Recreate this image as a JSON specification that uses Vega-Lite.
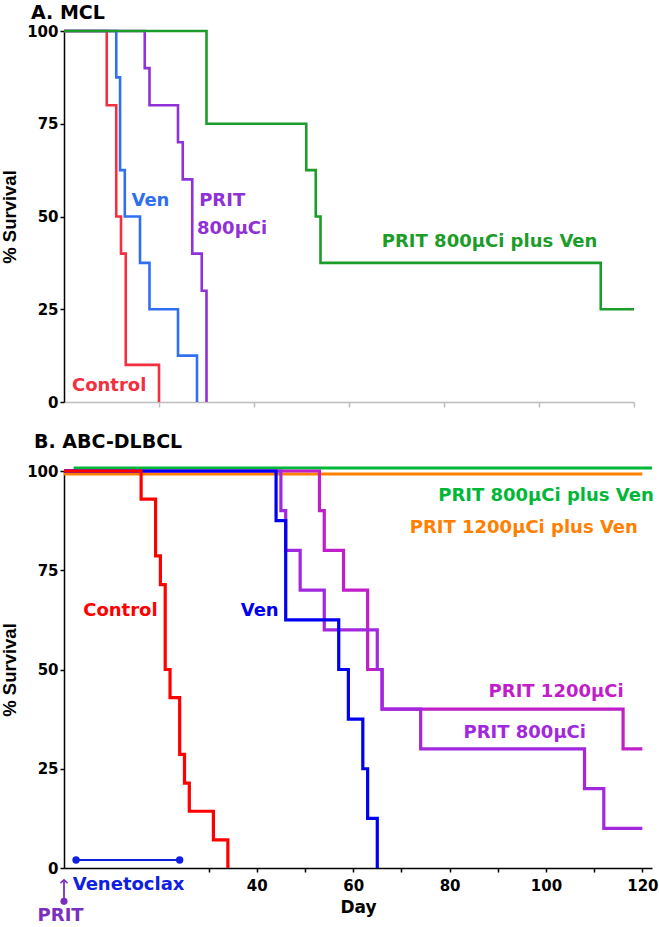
{
  "$schema": "https://vega.github.io/schema/vega-lite/v6.json",
  "padding": {"left": 0, "top": 4, "right": 0, "bottom": 0},
  "background": "white",
  "spacing": 22,
  "config": {
    "view": {"stroke": null},
    "font": "DejaVu Sans",
    "axis": {
      "grid": false,
      "labelFont": "DejaVu Sans", "labelFontWeight": "bold", "labelFontSize": 15, "labelColor": "black",
      "titleFont": "Liberation Sans", "titleFontWeight": "bold", "titleFontSize": 18.5, "titleColor": "black",
      "domainColor": "black", "tickColor": "black", "domainWidth": 1.5, "tickWidth": 1.5
    },
    "title": {"font": "DejaVu Sans", "fontSize": 19, "fontWeight": "bold", "anchor": "start", "color": "black", "frame": "group"}
  },
  "datasets": {
    "mcl": [
      {"series": "Control", "day": 0, "surv": 100}, {"series": "Control", "day": 9, "surv": 80}, {"series": "Control", "day": 11, "surv": 50}, {"series": "Control", "day": 12, "surv": 40}, {"series": "Control", "day": 13, "surv": 10}, {"series": "Control", "day": 20, "surv": 0},
      {"series": "Ven", "day": 0, "surv": 100}, {"series": "Ven", "day": 11, "surv": 87.5}, {"series": "Ven", "day": 11.8, "surv": 62.5}, {"series": "Ven", "day": 12.8, "surv": 50}, {"series": "Ven", "day": 16, "surv": 37.5}, {"series": "Ven", "day": 18, "surv": 25}, {"series": "Ven", "day": 24, "surv": 12.5}, {"series": "Ven", "day": 28, "surv": 0},
      {"series": "PRIT 800µCi", "day": 0, "surv": 100}, {"series": "PRIT 800µCi", "day": 17, "surv": 90}, {"series": "PRIT 800µCi", "day": 18, "surv": 80}, {"series": "PRIT 800µCi", "day": 24, "surv": 70}, {"series": "PRIT 800µCi", "day": 25, "surv": 60}, {"series": "PRIT 800µCi", "day": 27, "surv": 40}, {"series": "PRIT 800µCi", "day": 29, "surv": 30}, {"series": "PRIT 800µCi", "day": 30, "surv": 0},
      {"series": "PRIT 800µCi plus Ven", "day": 0, "surv": 100}, {"series": "PRIT 800µCi plus Ven", "day": 30, "surv": 75}, {"series": "PRIT 800µCi plus Ven", "day": 51, "surv": 62.5}, {"series": "PRIT 800µCi plus Ven", "day": 53, "surv": 50}, {"series": "PRIT 800µCi plus Ven", "day": 54, "surv": 37.5}, {"series": "PRIT 800µCi plus Ven", "day": 113, "surv": 25}, {"series": "PRIT 800µCi plus Ven", "day": 120, "surv": 25}
    ],
    "mcl_labels": [
      {"label": "Ven", "series": "Ven", "day": 18.2, "surv": 54.3},
      {"label": "PRIT", "series": "PRIT 800µCi", "day": 33.3, "surv": 54.3},
      {"label": "800µCi", "series": "PRIT 800µCi", "day": 35.4, "surv": 46.6},
      {"label": "Control", "series": "Control", "day": 9.5, "surv": 4.4},
      {"label": "PRIT 800µCi plus Ven", "series": "PRIT 800µCi plus Ven", "day": 89.6, "surv": 43}
    ],
    "dlbcl": [
      {"series": "PRIT 1200µCi", "day": 0, "surv": 100}, {"series": "PRIT 1200µCi", "day": 53, "surv": 90}, {"series": "PRIT 1200µCi", "day": 54, "surv": 80}, {"series": "PRIT 1200µCi", "day": 58, "surv": 70}, {"series": "PRIT 1200µCi", "day": 63, "surv": 50}, {"series": "PRIT 1200µCi", "day": 66, "surv": 40}, {"series": "PRIT 1200µCi", "day": 116, "surv": 30}, {"series": "PRIT 1200µCi", "day": 120, "surv": 30},
      {"series": "PRIT 800µCi", "day": 0, "surv": 100}, {"series": "PRIT 800µCi", "day": 45, "surv": 90}, {"series": "PRIT 800µCi", "day": 46, "surv": 80}, {"series": "PRIT 800µCi", "day": 49, "surv": 70}, {"series": "PRIT 800µCi", "day": 54, "surv": 60}, {"series": "PRIT 800µCi", "day": 65, "surv": 50}, {"series": "PRIT 800µCi", "day": 66, "surv": 40}, {"series": "PRIT 800µCi", "day": 74, "surv": 30}, {"series": "PRIT 800µCi", "day": 108, "surv": 20}, {"series": "PRIT 800µCi", "day": 112, "surv": 10}, {"series": "PRIT 800µCi", "day": 120, "surv": 10},
      {"series": "Ven", "day": 0, "surv": 100}, {"series": "Ven", "day": 44, "surv": 87.5}, {"series": "Ven", "day": 46, "surv": 62.5}, {"series": "Ven", "day": 57, "surv": 50}, {"series": "Ven", "day": 59, "surv": 37.5}, {"series": "Ven", "day": 62, "surv": 25}, {"series": "Ven", "day": 63, "surv": 12.5}, {"series": "Ven", "day": 65, "surv": 0},
      {"series": "Control", "day": 0, "surv": 100}, {"series": "Control", "day": 16, "surv": 92.9}, {"series": "Control", "day": 19, "surv": 78.6}, {"series": "Control", "day": 20, "surv": 71.4}, {"series": "Control", "day": 21, "surv": 50}, {"series": "Control", "day": 22, "surv": 42.9}, {"series": "Control", "day": 24, "surv": 28.6}, {"series": "Control", "day": 25, "surv": 21.4}, {"series": "Control", "day": 26, "surv": 14.3}, {"series": "Control", "day": 31, "surv": 7.1}, {"series": "Control", "day": 34, "surv": 0}
    ],
    "combo800": [
      {"series": "PRIT 800µCi plus Ven", "day": 2, "surv": 100}, {"series": "PRIT 800µCi plus Ven", "day": 122, "surv": 100}
    ],
    "combo1200": [
      {"series": "PRIT 1200µCi plus Ven", "day": 0, "surv": 100}, {"series": "PRIT 1200µCi plus Ven", "day": 120, "surv": 100}
    ],
    "venbar": [
      {"series": "Venetoclax", "day": 2.5, "surv": 2}, {"series": "Venetoclax", "day": 24, "surv": 2}
    ],
    "pritarrow": [
      {"series": "PRIT", "day": 0, "y1": -8.4, "y2": -3}
    ],
    "dlbcl_labels": [
      {"label": "Control", "series": "Control", "day": 11.7, "surv": 64.7},
      {"label": "Ven", "series": "Ven", "day": 40.6, "surv": 64.7},
      {"label": "PRIT 800µCi plus Ven", "series": "PRIT 800µCi plus Ven", "day": 100, "surv": 93.8},
      {"label": "PRIT 1200µCi plus Ven", "series": "PRIT 1200µCi plus Ven", "day": 95.4, "surv": 85.7},
      {"label": "PRIT 1200µCi", "series": "PRIT 1200µCi", "day": 102.1, "surv": 44.3},
      {"label": "PRIT 800µCi", "series": "PRIT 800µCi", "day": 95.6, "surv": 34},
      {"label": "Venetoclax", "series": "Venetoclax", "day": 13.4, "surv": -4.2},
      {"label": "PRIT", "series": "PRIT", "day": -0.7, "surv": -12}
    ]
  },
  "resolve": {"scale": {"color": "independent"}},
  "vconcat": [
    {
      "width": 570,
      "height": 371,
      "title": {"text": "A. MCL", "dx": -33, "offset": 1},
      "layer": [
        {
          "data": {"name": "mcl"},
          "mark": {"type": "line", "interpolate": "step-after", "strokeWidth": 2.6},
          "encoding": {
            "x": {"field": "day", "type": "quantitative", "scale": {"domain": [0, 120], "nice": false},
                  "axis": {"values": [20, 40, 60, 80, 100, 120], "labels": false, "title": null, "domainColor": "#bdbdbd", "tickColor": "#bdbdbd", "tickSize": 5}},
            "y": {"field": "surv", "type": "quantitative", "scale": {"domain": [0, 100], "nice": false},
                  "axis": {"values": [0, 25, 50, 75, 100], "title": "% Survival", "tickSize": 4, "labelPadding": 2, "titlePadding": 7}},
            "color": {"field": "series", "type": "nominal", "legend": null,
                      "scale": {"domain": ["Control", "Ven", "PRIT 800µCi", "PRIT 800µCi plus Ven"], "range": ["#f2303f", "#2f6ff0", "#9030d8", "#1c9c28"]}}
          }
        },
        {
          "data": {"name": "mcl_labels"},
          "mark": {"type": "text", "font": "DejaVu Sans", "fontWeight": "bold", "fontSize": 18, "align": "center", "baseline": "middle"},
          "encoding": {
            "x": {"field": "day", "type": "quantitative"},
            "y": {"field": "surv", "type": "quantitative"},
            "text": {"field": "label"},
            "color": {"field": "series", "type": "nominal", "legend": null}
          }
        }
      ]
    },
    {
      "width": 588,
      "height": 397,
      "title": {"text": "B. ABC-DLBCL", "dx": -30, "offset": 10},
      "layer": [
        {
          "data": {"name": "combo1200"},
          "mark": {"type": "line", "strokeWidth": 3.2, "yOffset": 3},
          "encoding": {
            "x": {"field": "day", "type": "quantitative", "scale": {"domain": [0, 122], "nice": false},
                  "axis": {"values": [30, 40, 50, 60, 70, 80, 90, 100, 110, 120], "labelExpr": "datum.value % 20 == 0 && datum.value >= 40 ? datum.label : ''", "title": "Day", "titleFont": "DejaVu Sans", "titleFontSize": 17, "tickSize": 4, "labelPadding": 6, "titlePadding": 6}},
            "y": {"field": "surv", "type": "quantitative", "scale": {"domain": [0, 100], "nice": false},
                  "axis": {"values": [0, 25, 50, 75, 100], "title": "% Survival", "tickSize": 4, "labelPadding": 2, "titlePadding": 7}},
            "color": {"field": "series", "type": "nominal", "legend": null,
                      "scale": {"domain": ["Control", "Ven", "PRIT 800µCi", "PRIT 1200µCi", "PRIT 800µCi plus Ven", "PRIT 1200µCi plus Ven", "Venetoclax", "PRIT"],
                                "range": ["#ff0000", "#0000f0", "#a228e0", "#c01ec8", "#00b838", "#ff8000", "#1020e0", "#7b2fbe"]}}
          }
        },
        {
          "data": {"name": "combo800"},
          "mark": {"type": "line", "strokeWidth": 3.2, "yOffset": -3},
          "encoding": {
            "x": {"field": "day", "type": "quantitative"},
            "y": {"field": "surv", "type": "quantitative"},
            "color": {"field": "series", "type": "nominal", "legend": null}
          }
        },
        {
          "data": {"name": "dlbcl"},
          "mark": {"type": "line", "interpolate": "step-after", "strokeWidth": 3.2},
          "encoding": {
            "x": {"field": "day", "type": "quantitative"},
            "y": {"field": "surv", "type": "quantitative"},
            "color": {"field": "series", "type": "nominal", "legend": null}
          }
        },
        {
          "data": {"name": "venbar"},
          "mark": {"type": "line", "strokeWidth": 2},
          "encoding": {
            "x": {"field": "day", "type": "quantitative"},
            "y": {"field": "surv", "type": "quantitative"},
            "color": {"field": "series", "type": "nominal", "legend": null}
          }
        },
        {
          "data": {"name": "venbar"},
          "mark": {"type": "point", "filled": true, "size": 55, "opacity": 1},
          "encoding": {
            "x": {"field": "day", "type": "quantitative"},
            "y": {"field": "surv", "type": "quantitative"},
            "color": {"field": "series", "type": "nominal", "legend": null}
          }
        },
        {
          "data": {"name": "pritarrow"},
          "mark": {"type": "rule", "strokeWidth": 1.8},
          "encoding": {
            "x": {"field": "day", "type": "quantitative"},
            "y": {"field": "y1", "type": "quantitative"},
            "y2": {"field": "y2"},
            "color": {"field": "series", "type": "nominal", "legend": null}
          }
        },
        {
          "data": {"name": "pritarrow"},
          "mark": {"type": "point", "filled": true, "size": 50, "opacity": 1},
          "encoding": {
            "x": {"field": "day", "type": "quantitative"},
            "y": {"field": "y1", "type": "quantitative"},
            "color": {"field": "series", "type": "nominal", "legend": null}
          }
        },
        {
          "data": {"name": "pritarrow"},
          "mark": {"type": "point", "filled": false, "size": 50, "opacity": 1, "strokeWidth": 1.6, "shape": "M-1,0.9L0,0L1,0.9"},
          "encoding": {
            "x": {"field": "day", "type": "quantitative"},
            "y": {"field": "y2", "type": "quantitative"},
            "color": {"field": "series", "type": "nominal", "legend": null}
          }
        },
        {
          "data": {"name": "dlbcl_labels"},
          "mark": {"type": "text", "font": "DejaVu Sans", "fontWeight": "bold", "fontSize": 18, "align": "center", "baseline": "middle"},
          "encoding": {
            "x": {"field": "day", "type": "quantitative"},
            "y": {"field": "surv", "type": "quantitative"},
            "text": {"field": "label"},
            "color": {"field": "series", "type": "nominal", "legend": null}
          }
        }
      ]
    }
  ]
}
